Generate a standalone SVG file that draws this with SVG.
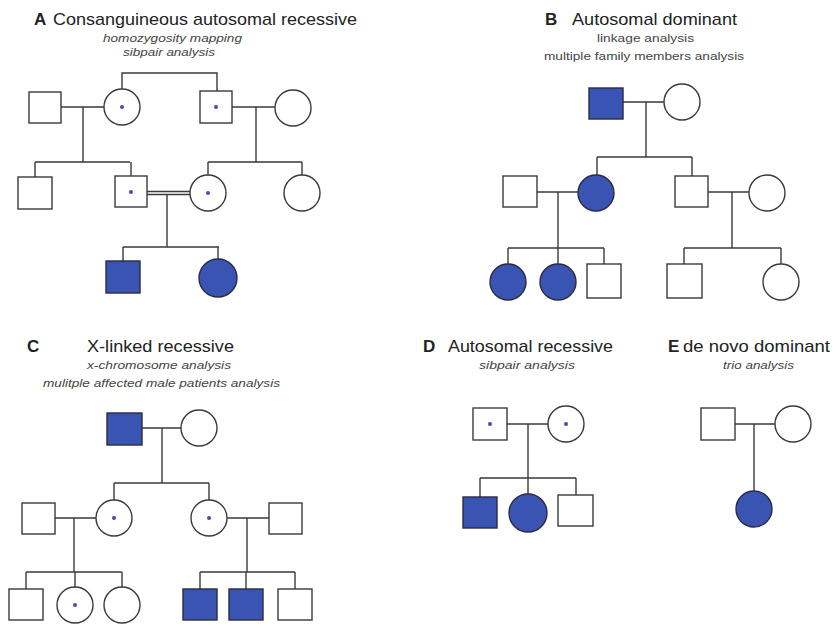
<svg xmlns="http://www.w3.org/2000/svg" width="834" height="628" viewBox="0 0 834 628">
<style>
.bg{fill:#ffffff}
.t{font-family:"Liberation Sans",Arial,sans-serif;font-size:17px;fill:#222}
.tb{font-family:"Liberation Sans",Arial,sans-serif;font-size:17px;font-weight:bold;fill:#222}
.s{font-family:"Liberation Sans",Arial,sans-serif;font-size:11.5px;font-style:italic;fill:#444}
.sn{font-family:"Liberation Sans",Arial,sans-serif;font-size:11.5px;fill:#444}
.n{fill:#fff;stroke:#3a3a3a;stroke-width:1.4}
.a{fill:#3a54b4;stroke:#2a2a40;stroke-width:1.4}
.d{fill:#5b3fb5}
.c{fill:none;stroke:#3a3a3a;stroke-width:1.4}
</style>
<rect class="bg" x="0" y="0" width="834" height="628"/>

<g id="titles">
<text class="tb" x="34" y="25">A</text>
<text class="t" x="53" y="25" textLength="304" lengthAdjust="spacingAndGlyphs">Consanguineous autosomal recessive</text>
<text class="s" x="103" y="42" textLength="139" lengthAdjust="spacingAndGlyphs">homozygosity mapping</text>
<text class="s" x="123" y="56" textLength="92" lengthAdjust="spacingAndGlyphs">sibpair analysis</text>

<text class="tb" x="545" y="25">B</text>
<text class="t" x="572" y="25" textLength="165" lengthAdjust="spacingAndGlyphs">Autosomal dominant</text>
<text class="sn" x="597" y="42" textLength="97" lengthAdjust="spacingAndGlyphs">linkage analysis</text>
<text class="sn" x="544" y="60" textLength="200" lengthAdjust="spacingAndGlyphs">multiple family members analysis</text>

<text class="tb" x="27" y="352">C</text>
<text class="t" x="87" y="352" textLength="147" lengthAdjust="spacingAndGlyphs">X-linked recessive</text>
<text class="s" x="87" y="369" textLength="144" lengthAdjust="spacingAndGlyphs">x-chromosome analysis</text>
<text class="s" x="43" y="387" textLength="237" lengthAdjust="spacingAndGlyphs">mulitple affected male patients analysis</text>

<text class="tb" x="423" y="352">D</text>
<text class="t" x="448" y="352" textLength="165" lengthAdjust="spacingAndGlyphs">Autosomal recessive</text>
<text class="s" x="479" y="369" textLength="96" lengthAdjust="spacingAndGlyphs">sibpair analysis</text>

<text class="tb" x="668" y="352">E</text>
<text class="t" x="683" y="352" textLength="147" lengthAdjust="spacingAndGlyphs">de novo dominant</text>
<text class="s" x="723" y="369" textLength="71" lengthAdjust="spacingAndGlyphs">trio analysis</text>
</g>

<g id="connectors">
<!-- Panel A -->
<path class="c" d="M61 107H104 M83 107V162 M35 162H130 M35 162V177 M131 162V176"/>
<path class="c" d="M122 89V73H217V91"/>
<path class="c" d="M232 107H275 M256 107V162 M208 162H302 M208 162V175 M302 162V175"/>
<path class="c" d="M147 191.5H190 M147 194.5H190 M167 194.5V247 M123 247H219 M123 247V261 M218 247V259"/>
<!-- Panel B -->
<path class="c" d="M623 102H664 M646 102V157 M597 157H692 M597 157V175 M692 157V176"/>
<path class="c" d="M537 192H578 M558 192V248 M508 248H604 M508 248V264 M558 248V264 M604 248V264"/>
<path class="c" d="M708 192H749 M732 192V248 M684 248H781 M684 248V264 M781 248V264"/>
<!-- Panel C -->
<path class="c" d="M142 428H181 M162 428V483 M114 483H209 M114 483V500 M209 483V500"/>
<path class="c" d="M55 518H96 M74 518V572 M26 572H122 M26 572V589 M75 572V587 M122 572V587"/>
<path class="c" d="M227 518H269 M247 518V572 M200 572H295 M200 572V589 M246 572V589 M295 572V589"/>
<!-- Panel D -->
<path class="c" d="M507 424H548 M528 424V478 M480 478H576 M480 478V497 M528 478V494 M576 478V495"/>
<!-- Panel E -->
<path class="c" d="M735 424H775 M754 424V491"/>
</g>

<!-- Panel A nodes -->
<g id="A-I1"><rect class="n" x="29" y="92" width="32" height="31"/></g>
<g id="A-I2"><circle class="n" cx="122" cy="107" r="18"/><circle class="d" cx="122" cy="107" r="2"/></g>
<g id="A-I3"><rect class="n" x="200" y="91" width="32" height="32"/><circle class="d" cx="216" cy="107" r="2"/></g>
<g id="A-I4"><circle class="n" cx="293" cy="108" r="18"/></g>
<g id="A-II1"><rect class="n" x="18" y="177" width="34" height="32"/></g>
<g id="A-II2"><rect class="n" x="115" y="176" width="32" height="31"/><circle class="d" cx="131" cy="192" r="2"/></g>
<g id="A-II3"><circle class="n" cx="208" cy="193" r="18"/><circle class="d" cx="208" cy="193" r="2"/></g>
<g id="A-II4"><circle class="n" cx="302" cy="193" r="18"/></g>
<g id="A-III1"><rect class="a" x="106" y="261" width="34" height="32"/></g>
<g id="A-III2"><circle class="a" cx="218" cy="278" r="19"/></g>

<!-- Panel B nodes -->
<g id="B-I1"><rect class="a" x="589" y="88" width="34" height="31"/></g>
<g id="B-I2"><circle class="n" cx="682" cy="102" r="18"/></g>
<g id="B-II1"><rect class="n" x="503" y="176" width="34" height="31"/></g>
<g id="B-II2"><circle class="a" cx="596" cy="193" r="18"/></g>
<g id="B-II3"><rect class="n" x="675" y="176" width="33" height="31"/></g>
<g id="B-II4"><circle class="n" cx="767" cy="193" r="18"/></g>
<g id="B-III1"><circle class="a" cx="508" cy="282" r="18"/></g>
<g id="B-III2"><circle class="a" cx="558" cy="282" r="18"/></g>
<g id="B-III3"><rect class="n" x="587" y="264" width="34" height="34"/></g>
<g id="B-III4"><rect class="n" x="667" y="264" width="35" height="34"/></g>
<g id="B-III5"><circle class="n" cx="781" cy="282" r="18"/></g>

<!-- Panel C nodes -->
<g id="C-I1"><rect class="a" x="107" y="413" width="35" height="32"/></g>
<g id="C-I2"><circle class="n" cx="199" cy="428" r="18"/></g>
<g id="C-II1"><rect class="n" x="22" y="503" width="33" height="31"/></g>
<g id="C-II2"><circle class="n" cx="114" cy="518" r="18"/><circle class="d" cx="114" cy="518" r="2"/></g>
<g id="C-II3"><circle class="n" cx="209" cy="518" r="18"/><circle class="d" cx="209" cy="518" r="2"/></g>
<g id="C-II4"><rect class="n" x="269" y="503" width="33" height="31"/></g>
<g id="C-III1"><rect class="n" x="9" y="589" width="34" height="31"/></g>
<g id="C-III2"><circle class="n" cx="75" cy="605" r="18"/><circle class="d" cx="75" cy="605" r="2"/></g>
<g id="C-III3"><circle class="n" cx="122" cy="605" r="18"/></g>
<g id="C-III4"><rect class="a" x="183" y="589" width="34" height="31"/></g>
<g id="C-III5"><rect class="a" x="229" y="589" width="34" height="31"/></g>
<g id="C-III6"><rect class="n" x="278" y="589" width="34" height="31"/></g>

<!-- Panel D nodes -->
<g id="D-I1"><rect class="n" x="473" y="408" width="34" height="32"/><circle class="d" cx="490" cy="424" r="2"/></g>
<g id="D-I2"><circle class="n" cx="566" cy="424" r="18"/><circle class="d" cx="566" cy="424" r="2"/></g>
<g id="D-II1"><rect class="a" x="463" y="497" width="34" height="31"/></g>
<g id="D-II2"><circle class="a" cx="528" cy="513" r="19"/></g>
<g id="D-II3"><rect class="n" x="558" y="495" width="35" height="31"/></g>

<!-- Panel E nodes -->
<g id="E-I1"><rect class="n" x="701" y="408" width="34" height="32"/></g>
<g id="E-I2"><circle class="n" cx="793" cy="424" r="18"/></g>
<g id="E-II1"><circle class="a" cx="754" cy="509" r="18"/></g>
</svg>
